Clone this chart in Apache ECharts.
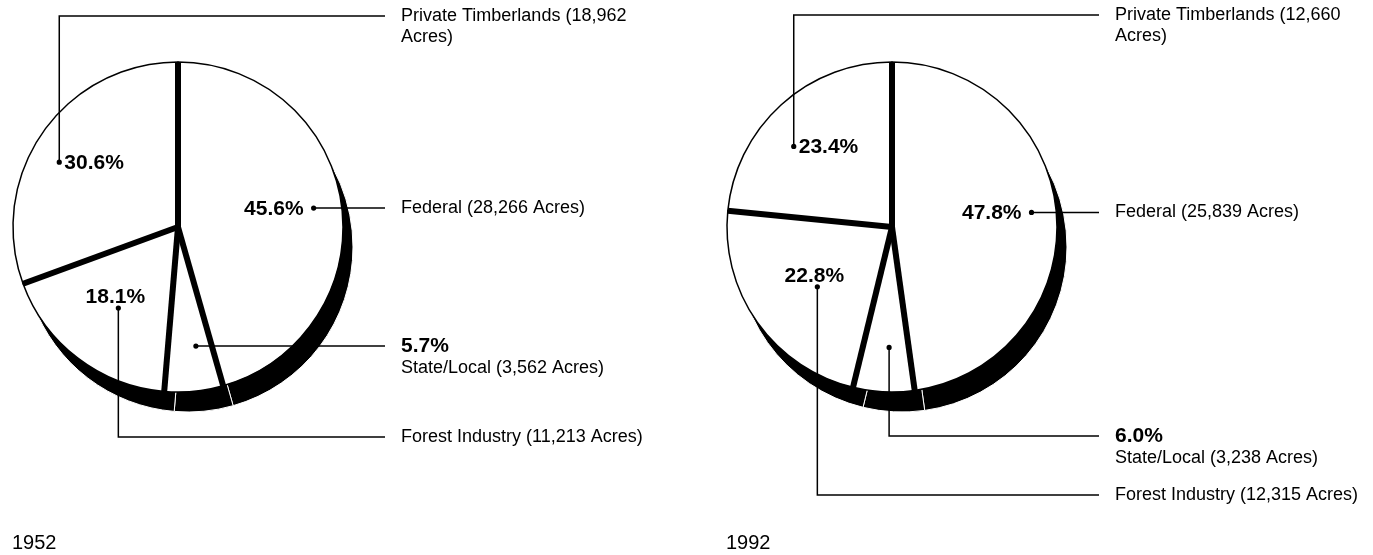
<!DOCTYPE html>
<html>
<head>
<meta charset="utf-8">
<script src="https://cdn.jsdelivr.net/npm/echarts@6.0.0/dist/echarts.min.js"></script>
<style>
  html, body { margin: 0; padding: 0; background: #fff; }
  #chart { width: 1373px; height: 555px; }
</style>
</head>
<body>
<div id="chart"></div>
<script>
// data (acres, thousands)
const categories = ['Federal', 'State/Local', 'Forest Industry', 'Private Timberlands'];
const years = ['1952', '1992'];
const acres1952 = [28266, 3562, 11213, 18962];
const acres1992 = [25839, 3238, 12315, 12660];

const FONT = '"Liberation Sans", Arial, Helvetica, sans-serif';

// where each pie sits and how its callouts are laid out (same order as categories)
const pies = [
  {
    year: years[0], acres: acres1952, center: [178, 227], radius: 165,
    dotR: [0.83, 0.73, 0.61, 0.82],
    nudge: [0, -3, -1, -6.3],          // degrees
    rowDy: [null, null, 210, -211],     // null = leader runs straight across
    pctMode: ['left', 'column', 'above', 'right'],
    wrap: [false, false, false, true]
  },
  {
    year: years[1], acres: acres1992, center: [892, 227], radius: 165,
    dotR: [0.85, 0.73, 0.58, 0.77],
    nudge: [-2, -1.5, -3.4, -8.5],
    rowDy: [null, 209, 268, -212],
    pctMode: ['left', 'column', 'above', 'right'],
    wrap: [false, false, false, true]
  }
];

function sum(arr) { return arr.reduce((a, b) => a + b, 0); }

function cumulative(arr) {
  const out = [];
  let acc = 0;
  arr.forEach(v => { out.push(acc); acc += v; });
  return out;
}

const chart = echarts.init(document.getElementById('chart'), null, { renderer: 'canvas' });

const polar = [], angleAxis = [], radiusAxis = [], series = [], title = [];

pies.forEach((pie, k) => {
  const total = sum(pie.acres);
  const starts = cumulative(pie.acres);
  const [cx, cy] = pie.center;

  polar.push({ center: [cx, cy], radius: pie.radius });
  angleAxis.push({ polarIndex: k, type: 'value', min: 0, max: total, startAngle: 90, clockwise: true, show: false });
  radiusAxis.push({ polarIndex: k, type: 'value', min: 0, max: 1, show: false });

  const pieData = pie.acres.map((v, i) => ({ name: categories[i], value: v }));

  // black "depth" under the pie
  series.push({
    type: 'pie', z: 1, silent: true,
    center: [cx + 10, cy + 20], radius: pie.radius,
    startAngle: 90, clockwise: true,
    data: pieData,
    itemStyle: { color: '#000', borderColor: '#fff', borderWidth: 1 },
    label: { show: false }, labelLine: { show: false },
    emphasis: { disabled: true }
  });

  // white face
  series.push({
    type: 'pie', z: 2, silent: true,
    center: [cx, cy], radius: pie.radius,
    startAngle: 90, clockwise: true,
    data: pieData,
    itemStyle: { color: '#fff', borderColor: '#000', borderWidth: 1.5 },
    label: { show: false }, labelLine: { show: false },
    emphasis: { disabled: true }
  });

  // thick dividers between slices
  series.push({
    type: 'custom', coordinateSystem: 'polar', polarIndex: k, z: 3, silent: true,
    data: starts.map(s => [1, s]),
    renderItem: function (params, api) {
      const a = api.value(1);
      const p0 = api.coord([0, a]);
      const p1 = api.coord([1, a]);
      return {
        type: 'line',
        shape: { x1: p0[0], y1: p0[1], x2: p1[0], y2: p1[1] },
        style: { stroke: '#000', lineWidth: 6, lineCap: 'butt' }
      };
    }
  });

  // callouts: dot, leader line, percentage, name
  series.push({
    type: 'custom', coordinateSystem: 'polar', polarIndex: k, z: 4, silent: true,
    data: pie.acres.map((v, i) => [pie.dotR[i], starts[i] + v / 2 + pie.nudge[i] / 360 * total]),
    renderItem: function (params, api) {
      const i = params.dataIndex;
      const c = api.coord([0, 0]);
      const p = api.coord([api.value(0), api.value(1)]);
      const dy = pie.rowDy[i];
      const rowY = dy == null ? p[1] : c[1] + dy;
      const endX = c[0] + 207;
      const textX = c[0] + 223;
      const pts = dy == null ? [p, [endX, p[1]]] : [p, [p[0], rowY], [endX, rowY]];
      const pct = (pie.acres[i] / total * 100).toFixed(1) + '%';
      let name = categories[i] + ' (' + pie.acres[i].toLocaleString('en-US') + ' Acres)';
      if (pie.wrap[i]) name = name.replace(' Acres)', '\nAcres)');

      const children = [
        { type: 'polyline', shape: { points: pts }, style: { stroke: '#000', lineWidth: 1.5, fill: 'none' } },
        { type: 'circle', shape: { cx: p[0], cy: p[1], r: 2.6 }, style: { fill: '#000' } }
      ];
      const pctFont = 'bold 21px ' + FONT;
      const nameFont = '18px ' + FONT;
      const mode = pie.pctMode[i];
      let nameY = rowY;
      if (mode === 'left') {
        children.push({ type: 'text', x: p[0] - 10, y: p[1] + 1, style: { text: pct, font: pctFont, fill: '#000', align: 'right', verticalAlign: 'middle' } });
      } else if (mode === 'right') {
        children.push({ type: 'text', x: p[0] + 5, y: p[1] + 1, style: { text: pct, font: pctFont, fill: '#000', align: 'left', verticalAlign: 'middle' } });
      } else if (mode === 'above') {
        children.push({ type: 'text', x: p[0] - 3, y: p[1] - 11, style: { text: pct, font: pctFont, fill: '#000', align: 'center', verticalAlign: 'middle' } });
      } else {
        children.push({ type: 'text', x: textX, y: rowY, style: { text: pct, font: pctFont, fill: '#000', align: 'left', verticalAlign: 'middle' } });
        nameY = rowY + 22;
      }
      name.split('\n').forEach((line, j) => {
        children.push({ type: 'text', x: textX, y: nameY + j * 21, style: { text: line, font: nameFont, fill: '#000', align: 'left', verticalAlign: 'middle' } });
      });
      return { type: 'group', children: children };
    }
  });

  title.push({
    text: pie.year, left: cx - 166, top: 533, padding: 0,
    textStyle: { fontFamily: FONT, fontSize: 20, fontWeight: 'normal', color: '#000' }
  });
});

chart.setOption({
  animation: false,
  backgroundColor: '#fff',
  title: title,
  polar: polar,
  angleAxis: angleAxis,
  radiusAxis: radiusAxis,
  series: series
});
</script>
</body>
</html>
